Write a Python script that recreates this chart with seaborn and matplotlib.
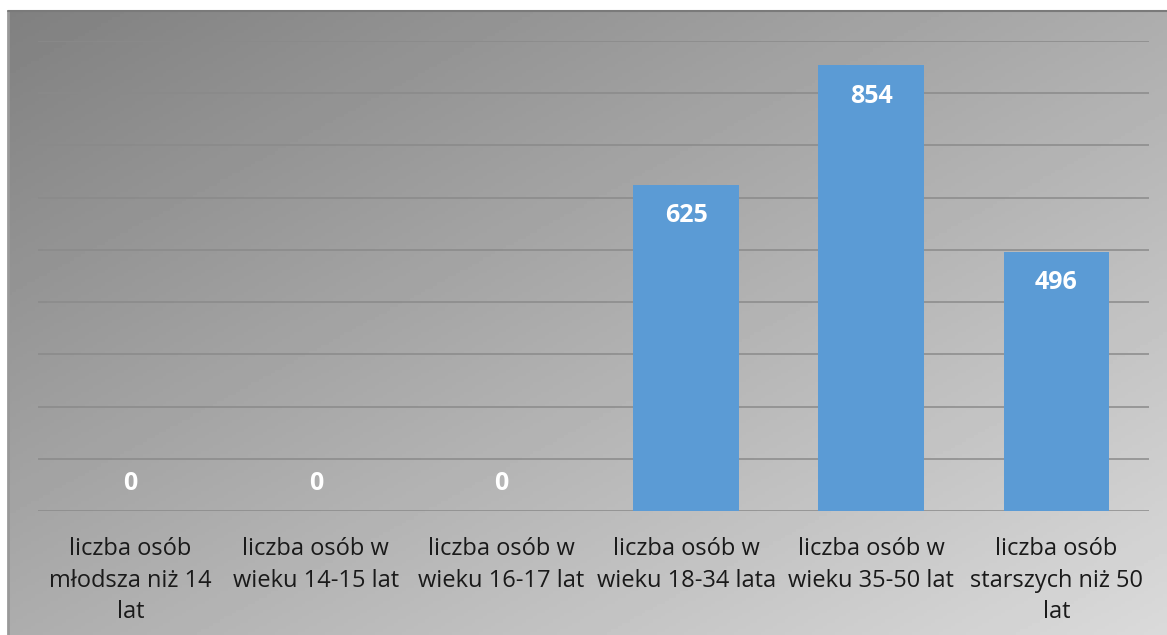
import numpy as np
import pandas as pd
import seaborn as sns
import matplotlib.pyplot as plt

categories = ['liczba osób\nmłodsza niż 14\nlat',
              'liczba osób w\nwieku 14-15 lat',
              'liczba osób w\nwieku 16-17 lat',
              'liczba osób w\nwieku 18-34 lata',
              'liczba osób w\nwieku 35-50 lat',
              'liczba osób\nstarszych niż 50\nlat']
values = [0, 0, 0, 625, 854, 496]

df = pd.DataFrame({'kategoria': categories, 'liczba': values})

sns.set_theme(style='white')
plt.rcParams['font.family'] = ['Open Sans', 'DejaVu Sans']

W, H = 1167, 635
fig = plt.figure(figsize=(W / 100, H / 100), dpi=100)
fig.patch.set_facecolor('white')

# gradient backdrop of the chart area (dark top-left -> light bottom-right)
bg = fig.add_axes([8 / W, 0, 1 - 8 / W, 1 - 11 / H])
gx, gy = np.meshgrid(np.linspace(0, 1, 300), np.linspace(0, 1, 200))
grad = 128 + (gx + gy) / 2 * (218 - 128)
bg.imshow(grad, cmap='gray', vmin=0, vmax=255, aspect='auto', origin='upper',
          extent=[0, 1, 0, 1])
bg.set_xlim(0, 1)
bg.set_ylim(0, 1)
bg.axis('off')
bg.plot([0, 0], [0, 1], color='#999999', lw=2, transform=bg.transAxes, clip_on=False)
bg.plot([0, 1], [1, 1], color='#7a7a7a', lw=1.5, transform=bg.transAxes, clip_on=False)

ax = fig.add_axes([38 / W, 1 - 511 / H, (1149 - 38) / W, (511 - 41) / H])
ax.patch.set_alpha(0)
sns.barplot(data=df, x='kategoria', y='liczba', color='#5B9BD5', saturation=1,
            width=0.57, linewidth=0, ax=ax, zorder=3)
ax.set_ylim(0, 900)
ax.set_xlim(-0.5, len(categories) - 0.5)
ax.set_yticks(range(0, 901, 100))
ax.yaxis.grid(True, color='#8a8a8a', lw=1.1, zorder=0)
ax.set_axisbelow(True)
ax.set_yticklabels([])
ax.tick_params(axis='y', length=0)
ax.tick_params(axis='x', length=0, pad=19, labelsize=17, labelcolor='#1a1a1a')
for lbl in ax.get_xticklabels():
    lbl.set_linespacing(1.4)
ax.set_xlabel('')
ax.set_ylabel('')
for s in ax.spines.values():
    s.set_visible(False)

for i, v in enumerate(values):
    if v > 0:
        off = -31
    else:
        off = 27
    ax.annotate(str(v), (i, v), xytext=(0, off * 0.72), textcoords='offset points',
                ha='center', va='center', color='white', fontsize=18,
                fontweight='bold', zorder=5)

fig.savefig('out.png', dpi=100)
